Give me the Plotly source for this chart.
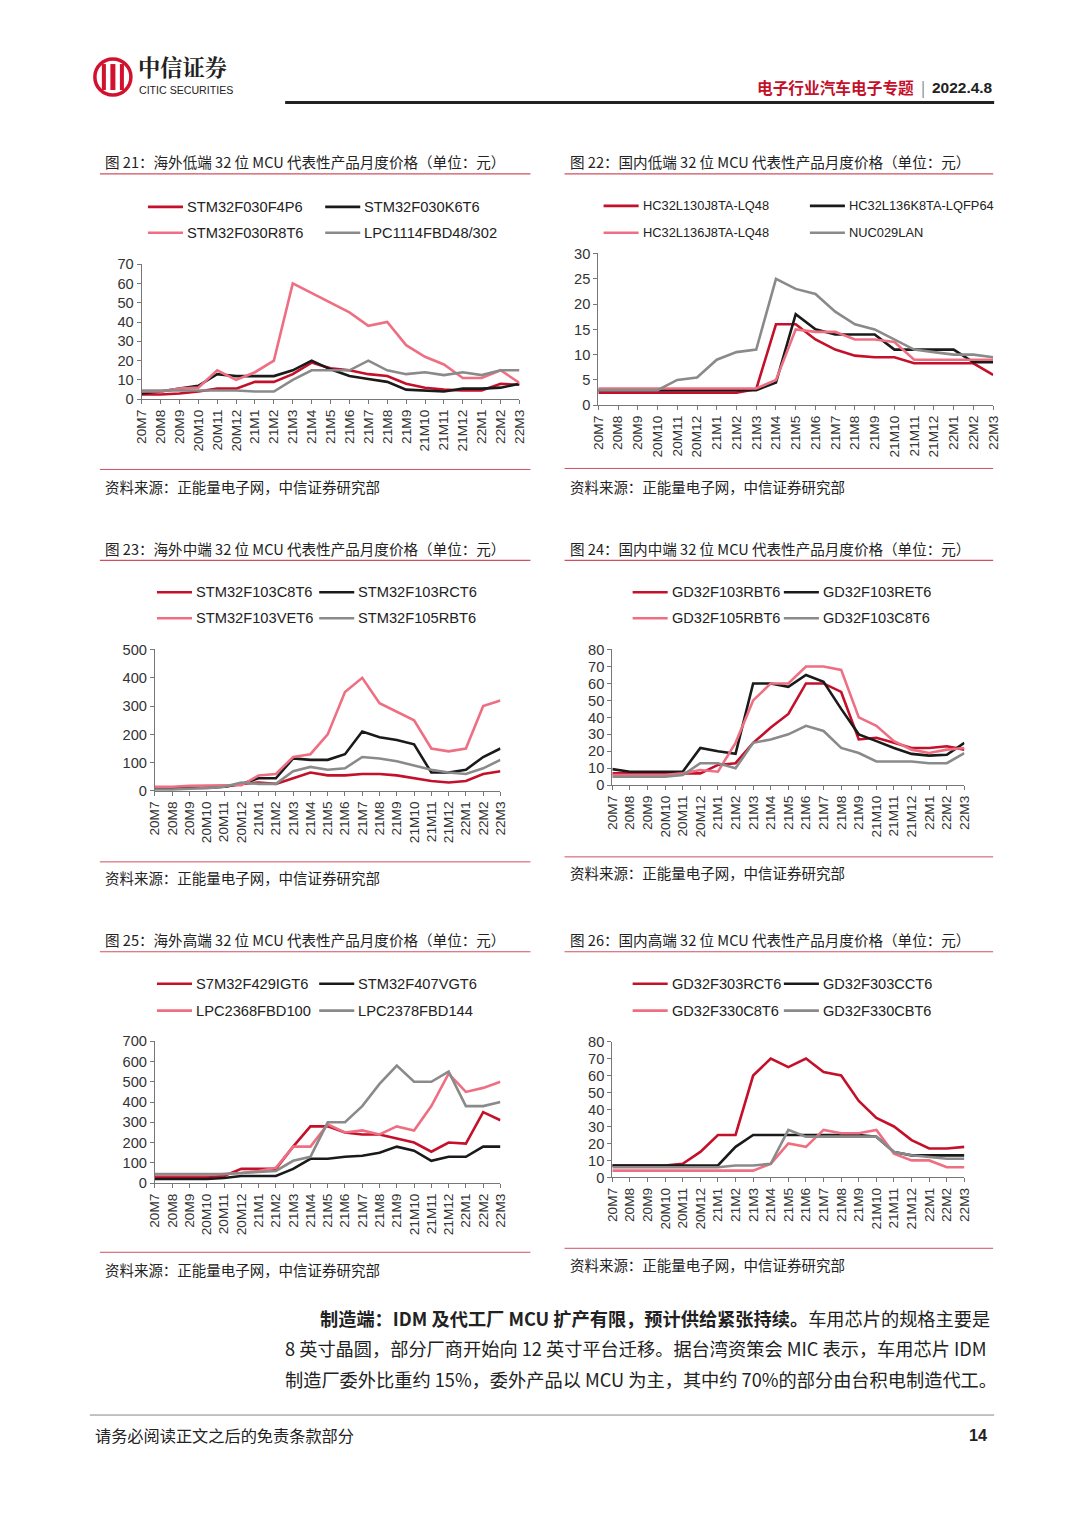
import plotly.graph_objects as go

# ---------------- data ----------------
months = ["20M7", "20M8", "20M9", "20M10", "20M11", "20M12",
          "21M1", "21M2", "21M3", "21M4", "21M5", "21M6", "21M7", "21M8", "21M9", "21M10", "21M11", "21M12",
          "22M1", "22M2", "22M3"]

# Fig 21 overseas low-end
f21_names = ["STM32F030F4P6", "STM32F030K6T6", "STM32F030R8T6", "LPC1114FBD48/302"]
f21_a = [2.5, 2.5, 3, 4, 5.5, 5.5, 9, 9, 13, 19, 16, 15, 13, 12, 8, 6, 5, 4.5, 4.5, 8, 7.5]
f21_b = [3, 4, 5.5, 7, 13, 12, 12, 12, 15, 20, 15.5, 12, 10.5, 9, 5, 4.5, 4, 5.5, 5.5, 6, 8]
f21_c = [4, 4, 5.5, 6, 15, 10, 14, 20, 60, 55, 50, 45, 38, 40, 28, 22, 18, 11, 11, 15, 8.5]
f21_d = [4.5, 4.5, 4.5, 4.5, 4.5, 4.5, 4, 4, 10, 15, 15, 15, 20, 15, 13, 14, 12.5, 14, 12.5, 15, 15]

# Fig 22 domestic low-end
f22_names = ["HC32L130J8TA-LQ48", "HC32L136K8TA-LQFP64", "HC32L136J8TA-LQ48", "NUC029LAN"]
f22_a = [2.5, 2.5, 2.5, 2.5, 2.5, 2.5, 2.5, 2.5, 3.2, 16, 16, 13, 11, 9.8, 9.5, 9.5, 8.3, 8.3, 8.3, 8.3, 6]
f22_b = [3, 3, 3, 3, 3, 3, 3, 3, 3, 4.5, 18, 15, 14, 14, 14, 11, 11, 11, 11, 8.5, 8.5]
f22_c = [3.3, 3.3, 3.3, 3.3, 3.3, 3.3, 3.3, 3.3, 3.3, 5, 15, 14.5, 14.5, 13, 13, 12.5, 9, 9, 9, 9, 9]
f22_d = [3, 3, 3, 3, 5, 5.5, 9, 10.5, 11, 25, 23, 22, 18.5, 16, 15, 13, 11, 10.5, 10, 10, 9.5]

# Fig 23 overseas mid-end
f23_names = ["STM32F103C8T6", "STM32F103RCT6", "STM32F103VET6", "STM32F105RBT6"]
f23_a = [10, 10, 12, 12, 15, 25, 30, 25, 45, 65, 55, 55, 60, 60, 55, 45, 35, 30, 35, 60, 70]
f23_b = [10, 10, 12, 12, 15, 25, 45, 45, 115, 110, 110, 130, 210, 190, 180, 165, 65, 65, 75, 120, 150]
f23_c = [15, 15, 18, 20, 20, 20, 55, 60, 120, 130, 200, 350, 400, 310, 280, 250, 150, 140, 150, 300, 320]
f23_d = [5, 5, 8, 10, 15, 30, 25, 25, 70, 85, 75, 80, 120, 115, 105, 90, 75, 65, 60, 80, 110]

# Fig 24 domestic mid-end
f24_names = ["GD32F103RBT6", "GD32F103RET6", "GD32F105RBT6", "GD32F103C8T6"]
f24_a = [7, 7, 7, 7, 7, 7, 12, 13, 25, 34, 42, 60, 60, 55, 27, 28, 25, 22, 22, 23, 21]
f24_b = [9.5, 8, 8, 8, 8, 22, 20, 18.5, 60, 60, 58, 65, 61, 45, 30, 26, 22, 18.5, 17.5, 18, 25]
f24_c = [6, 6, 6, 6, 7, 9, 8, 25, 50, 60, 60, 70, 70, 68, 40, 35, 26, 21, 19, 21, 22]
f24_d = [5, 5, 5, 5, 6, 13, 13, 10, 25, 27, 30, 35, 32, 22, 19, 14, 14, 14, 13, 13, 19]

# Fig 25 overseas high-end
f25_names = ["S7M32F429IGT6", "STM32F407VGT6", "LPC2368FBD100", "LPC2378FBD144"]
f25_a = [30, 30, 30, 30, 35, 70, 70, 70, 180, 280, 280, 250, 240, 240, 220, 200, 155, 200, 195, 350, 310]
f25_b = [20, 20, 20, 20, 25, 35, 35, 35, 70, 120, 120, 130, 135, 150, 180, 160, 110, 130, 130, 180, 180]
f25_c = [40, 40, 40, 40, 45, 50, 60, 75, 180, 180, 290, 250, 260, 240, 280, 260, 380, 540, 450, 470, 500]
f25_d = [45, 45, 45, 45, 45, 50, 55, 60, 110, 130, 300, 300, 380, 490, 580, 500, 500, 550, 380, 380, 400]

# Fig 26 domestic high-end
f26_names = ["GD32F303RCT6", "GD32F303CCT6", "GD32F330C8T6", "GD32F330CBT6"]
f26_a = [7, 7, 7, 7, 8, 15, 25, 25, 60, 70, 65, 70, 62, 60, 45, 35, 30, 22, 17, 17, 18]
f26_b = [7, 7, 7, 7, 7, 7, 7, 18, 25, 25, 25, 25, 25, 25, 25, 24, 15, 13, 13, 13, 13]
f26_c = [4, 4, 4, 4, 4, 4, 4, 4, 4, 8, 20, 18, 28, 26, 26, 28, 14, 10, 10, 6, 6]
f26_d = [6, 6, 6, 6, 6, 6, 6, 7, 7, 8, 28, 24, 24, 24, 24, 24, 15, 13, 12, 11, 11]

titles = [
    "图 21：海外低端 32 位 MCU 代表性产品月度价格（单位：元）",
    "图 22：国内低端 32 位 MCU 代表性产品月度价格（单位：元）",
    "图 23：海外中端 32 位 MCU 代表性产品月度价格（单位：元）",
    "图 24：国内中端 32 位 MCU 代表性产品月度价格（单位：元）",
    "图 25：海外高端 32 位 MCU 代表性产品月度价格（单位：元）",
    "图 26：国内高端 32 位 MCU 代表性产品月度价格（单位：元）",
]
source_text = "资料来源：正能量电子网，中信证券研究部"

# ---------------- page geometry ----------------
W, H = 1064, 1512
OFF = 8
# empirical correction for how the page is photographed
SX, BX = 0.9845, 8.37
SY, BY = 0.9909, 6.94
FS = 1.012


def X(t):
    p = (t - BX) / SX
    return (p - OFF) / W


def Y(t):
    p = (t - BY) / SY
    return 1 - (p - OFF) / H


def fs(s):
    return s * FS


RED = "#C4102A"
PINK = "#EF6F82"
BLACK = "#1A1A1A"
GRAY = "#8A8A8A"
RULE = "#D05060"
colors = [RED, BLACK, PINK, GRAY]

CN = "Noto Sans CJK SC"
LAT = "Liberation Sans, Arial, Noto Sans CJK SC"

charts = [
    dict(names=f21_names, series=[f21_a, f21_b, f21_c, f21_d], ymax=70, dtick=10,
         box=(141.7, 519, 263.3, 398.7), title_xy=(103, 161), rule=(100, 530, 173),
         leg=(148, 325, 206, 232), legfs=14.5, src_line=469, src_y=486),
    dict(names=f22_names, series=[f22_a, f22_b, f22_c, f22_d], ymax=30, dtick=5,
         box=(597.7, 992, 252.7, 404.7), title_xy=(567, 161), rule=(564, 992, 173),
         leg=(603, 809, 205, 232), legfs=12.7, src_line=468, src_y=486),
    dict(names=f23_names, series=[f23_a, f23_b, f23_c, f23_d], ymax=500, dtick=100,
         box=(155, 500, 649.3, 791), title_xy=(103, 548), rule=(100, 530, 560),
         leg=(157, 319, 592, 618), legfs=14.5, src_line=862, src_y=878),
    dict(names=f24_names, series=[f24_a, f24_b, f24_c, f24_d], ymax=80, dtick=10,
         box=(611.7, 963.3, 649.3, 785.3), title_xy=(567, 548), rule=(564, 992, 560),
         leg=(632, 783, 592, 618), legfs=14.4, src_line=857, src_y=873),
    dict(names=f25_names, series=[f25_a, f25_b, f25_c, f25_d], ymax=700, dtick=100,
         box=(155, 500, 1041.7, 1183.7), title_xy=(103, 940), rule=(100, 530, 952),
         leg=(157, 319, 984, 1011), legfs=14.5, src_line=1253, src_y=1270),
    dict(names=f26_names, series=[f26_a, f26_b, f26_c, f26_d], ymax=80, dtick=10,
         box=(611.7, 963.3, 1042, 1178), title_xy=(567, 940), rule=(564, 992, 952),
         leg=(632, 783, 984, 1011), legfs=14.4, src_line=1249, src_y=1265),
]

fig = go.Figure()
shapes = []
annotations = []
layout_axes = {}

xidx = list(range(len(months)))

for i, ch in enumerate(charts):
    n = "" if i == 0 else str(i + 1)
    x0, x1, ytop, ybot = ch["box"]
    for k in range(4):
        fig.add_trace(go.Scatter(
            x=xidx, y=ch["series"][k], mode="lines", name=ch["names"][k],
            line=dict(color=colors[k], width=2.6), showlegend=False,
            xaxis="x" + n, yaxis="y" + n, hoverinfo="skip"))
    layout_axes["xaxis" + n] = dict(
        domain=[X(x0), X(x1)], anchor="y" + n, range=[0, len(months) - 1],
        tickmode="array", tickvals=xidx, ticktext=months, tickangle=-90,
        showline=True, linecolor="#777", linewidth=1, ticks="outside", ticklen=4,
        tickcolor="#777", showgrid=False, zeroline=False,
        tickfont=dict(family=LAT, size=fs(13.5), color="#333"))
    layout_axes["yaxis" + n] = dict(
        domain=[Y(ybot), Y(ytop)], anchor="x" + n, range=[0, ch["ymax"]],
        dtick=ch["dtick"], tick0=0, showline=True, linecolor="#777", linewidth=1,
        ticks="outside", ticklen=4, tickcolor="#777", showgrid=False, zeroline=False,
        tickfont=dict(family=LAT, size=fs(14.5), color="#333"))

    # title
    tx, ty = ch["title_xy"]
    annotations.append(dict(x=X(tx), y=Y(ty), xref="paper", yref="paper", text=titles[i],
                            showarrow=False, xanchor="left", yanchor="middle",
                            font=dict(family=CN, size=fs(14.4), color="#222")))
    rx0, rx1, ry = ch["rule"]
    shapes.append(dict(type="line", xref="paper", yref="paper", x0=X(rx0), x1=X(rx1),
                       y0=Y(ry), y1=Y(ry), line=dict(color=RULE, width=1.2)))
    # source
    shapes.append(dict(type="line", xref="paper", yref="paper", x0=X(rx0), x1=X(rx1),
                       y0=Y(ch["src_line"]), y1=Y(ch["src_line"]), line=dict(color=RULE, width=1)))
    annotations.append(dict(x=X(tx), y=Y(ch["src_y"]), xref="paper", yref="paper", text=source_text,
                            showarrow=False, xanchor="left", yanchor="middle",
                            font=dict(family=CN, size=fs(14.3), color="#222")))
    # legend
    lx_a, lx_b, ly1, ly2 = ch["leg"]
    pos = [(lx_a, ly1), (lx_b, ly1), (lx_a, ly2), (lx_b, ly2)]
    for k in range(4):
        lx, ly = pos[k]
        shapes.append(dict(type="line", xref="paper", yref="paper", x0=X(lx), x1=X(lx + 35),
                           y0=Y(ly), y1=Y(ly), line=dict(color=colors[k], width=2.6)))
        annotations.append(dict(x=X(lx + 37), y=Y(ly), xref="paper", yref="paper",
                                text=ch["names"][k], showarrow=False, xanchor="left",
                                yanchor="middle", font=dict(family=LAT, size=fs(ch["legfs"]), color="#222")))

# ---------------- header ----------------
LOGO_RED = "#D2112E"
shapes.append(dict(type="circle", xref="paper", yref="paper", x0=X(95), x1=X(131),
                   y0=Y(94), y1=Y(58), line=dict(color=LOGO_RED, width=3.5)))
for bx in [(102, 106), (110.5, 115.5), (120, 124)]:
    shapes.append(dict(type="rect", xref="paper", yref="paper", x0=X(bx[0]), x1=X(bx[1]),
                       y0=Y(89), y1=Y(63), line=dict(width=0), fillcolor=LOGO_RED))
annotations.append(dict(x=X(136), y=Y(83), xref="paper", yref="paper", text="<b>中信证券</b>",
                        showarrow=False, xanchor="left", yanchor="bottom",
                        font=dict(family="Noto Serif CJK SC, Noto Sans CJK SC", size=fs(22), color="#222")))
annotations.append(dict(x=X(137), y=Y(81), xref="paper", yref="paper", text="CITIC SECURITIES",
                        showarrow=False, xanchor="left", yanchor="top",
                        font=dict(family="Liberation Sans Narrow, Liberation Sans", size=fs(10.5), color="#222")))
annotations.append(dict(x=X(915), y=Y(86), xref="paper", yref="paper", text="<b>电子行业汽车电子专题</b>",
                        showarrow=False, xanchor="right", yanchor="middle",
                        font=dict(family=CN, size=fs(15.5), color=RED)))
annotations.append(dict(x=X(922), y=Y(86), xref="paper", yref="paper", text="|",
                        showarrow=False, xanchor="center", yanchor="middle",
                        font=dict(family=CN, size=fs(15), color="#777")))
annotations.append(dict(x=X(929), y=Y(86), xref="paper", yref="paper", text="<b>2022.4.8</b>",
                        showarrow=False, xanchor="left", yanchor="middle",
                        font=dict(family="Liberation Sans", size=fs(15.3), color="#222")))
shapes.append(dict(type="line", xref="paper", yref="paper", x0=X(285), x1=X(993),
                   y0=Y(101.5), y1=Y(101.5), line=dict(color="#222", width=3)))

# ---------------- body text ----------------
body_lines = [
    (318, 1319, "<b>制造端：IDM 及代工厂 MCU 扩产有限，预计供给紧张持续。</b>车用芯片的规格主要是"),
    (283, 1349, "8 英寸晶圆，部分厂商开始向 12 英寸平台迁移。据台湾资策会 MIC 表示，车用芯片 IDM"),
    (283, 1380, "制造厂委外比重约 15%，委外产品以 MCU 为主，其中约 70%的部分由台积电制造代工。"),
]
for bx, by, t in body_lines:
    annotations.append(dict(x=X(bx), y=Y(by), xref="paper", yref="paper", text=t,
                            showarrow=False, xanchor="left", yanchor="middle",
                            font=dict(family=CN, size=fs(18), color="#222")))

# ---------------- footer ----------------
shapes.append(dict(type="line", xref="paper", yref="paper", x0=X(90), x1=X(993),
                   y0=Y(1416), y1=Y(1416), line=dict(color="#888", width=1)))
annotations.append(dict(x=X(93), y=Y(1436), xref="paper", yref="paper", text="请务必阅读正文之后的免责条款部分",
                        showarrow=False, xanchor="left", yanchor="middle",
                        font=dict(family=CN, size=fs(16), color="#222")))
annotations.append(dict(x=X(988), y=Y(1436), xref="paper", yref="paper", text="<b>14</b>",
                        showarrow=False, xanchor="right", yanchor="middle",
                        font=dict(family=LAT, size=fs(16), color="#222")))

fig.update_layout(
    width=W, height=H, autosize=False,
    margin=dict(l=0, r=0, t=0, b=0),
    paper_bgcolor="white", plot_bgcolor="white",
    shapes=shapes, annotations=annotations,
    **layout_axes,
)

fig.write_html("out.html", config={"displayModeBar": False, "staticPlot": True})
